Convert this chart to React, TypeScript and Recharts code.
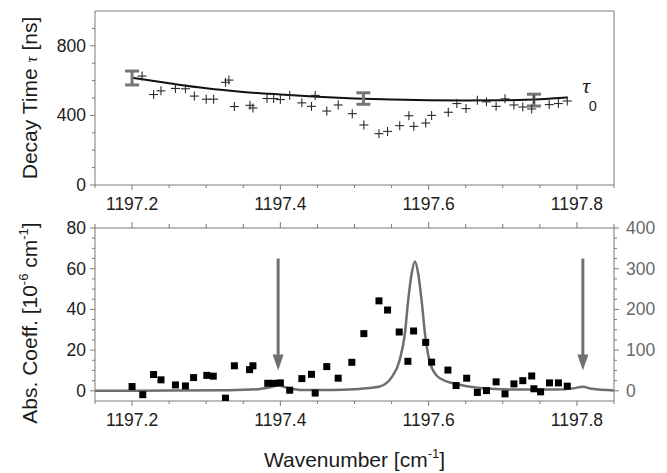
import { ComposedChart, Scatter, Line, XAxis, YAxis, ErrorBar, ReferenceLine, Label } from 'recharts'

const FONT = '"Liberation Sans", Arial, Helvetica, sans-serif'
const SERIF = '"Liberation Serif", "Times New Roman", serif'
const AXIS = '#7a7a7a'
const INK = '#1c1c1c'
const GREY = '#6e6e6e'

// upper panel: decay time tau [ns]
const tauWave = [
  1197.2135, 1197.229, 1197.239, 1197.2585, 1197.272, 1197.284, 1197.3, 1197.31, 1197.326, 1197.3306,
  1197.338, 1197.359, 1197.363, 1197.382, 1197.391, 1197.4, 1197.4126, 1197.429, 1197.442, 1197.447,
  1197.4626, 1197.478, 1197.497, 1197.5126, 1197.533, 1197.5446, 1197.561, 1197.5734, 1197.58, 1197.596,
  1197.604, 1197.6265, 1197.638, 1197.6504, 1197.6657, 1197.678, 1197.691, 1197.703, 1197.715, 1197.727,
  1197.739, 1197.742, 1197.7626, 1197.775, 1197.787,
]
const tauNs = [
  626, 520, 541, 555, 553, 511, 493, 493, 590, 603,
  451, 458, 443, 497, 497, 491, 516, 472, 452, 515,
  425, 460, 410, 345, 295, 308, 341, 398, 337, 356,
  400, 418, 468, 439, 487, 478, 452, 495, 460, 448,
  437, 491, 462, 468, 483,
]
const fitWave = [1197.2, 1197.25, 1197.3, 1197.35, 1197.4, 1197.45, 1197.5, 1197.55, 1197.6, 1197.65, 1197.7, 1197.75, 1197.787]
const fitNs = [617, 585, 556, 535, 520, 507, 497, 491, 487, 485, 487, 493, 503]
const errWave = [1197.2, 1197.512, 1197.742]
const errNs = [615, 497, 488]
const errHalf = [40, 33, 34]

// lower panel: absorption coefficient + simulated spectrum
const absWave = [
  1197.2, 1197.2144, 1197.229, 1197.239, 1197.2585, 1197.272, 1197.283, 1197.3008, 1197.3095, 1197.326,
  1197.338, 1197.3585, 1197.363, 1197.383, 1197.391, 1197.4, 1197.4126, 1197.429, 1197.442, 1197.447,
  1197.4626, 1197.478, 1197.4964, 1197.5126, 1197.533, 1197.5446, 1197.5603, 1197.572, 1197.5797, 1197.596,
  1197.604, 1197.626, 1197.637, 1197.6513, 1197.6657, 1197.678, 1197.691, 1197.703, 1197.715, 1197.727,
  1197.739, 1197.742, 1197.751, 1197.763, 1197.775, 1197.787,
]
const absCoeff = [
  2.1, -1.9, 8.0, 5.4, 2.9, 2.4, 6.5, 7.6, 7.2, -3.6,
  12.3, 10.4, 12.3, 3.7, 3.7, 3.9, 0.3, 6.0, 8.1, -1.1,
  11.9, 6.2, 14.0, 28.1, 44.2, 39.7, 28.9, 14.5, 29.4, 23.8,
  14.1, 10.2, 2.6, 6.2, -0.8, 0.1, 4.4, -1.5, 3.4, 5.0,
  7.3, 1.0, -0.5, 3.9, 3.9, 2.3,
]
const simWave = [
  1197.15, 1197.25, 1197.33, 1197.37, 1197.385, 1197.397, 1197.41, 1197.43, 1197.47, 1197.5,
  1197.52, 1197.534, 1197.55, 1197.561, 1197.568, 1197.5724, 1197.577, 1197.5815, 1197.586, 1197.5905,
  1197.595, 1197.6008, 1197.611, 1197.6243, 1197.642, 1197.669, 1197.72, 1197.77, 1197.795, 1197.808,
  1197.82, 1197.85,
]
const simSignal = [
  0, 0.5, 1.5, 4, 8, 13, 7, 2, 2, 4,
  7, 10.5, 33, 76, 141, 222, 287, 318, 287, 222,
  141, 76, 37, 23, 15, 7, 3, 3, 6, 10,
  5, 1,
]
const arrowWave = [1197.397, 1197.808]
const arrowFrom = 65
const arrowTo = 10

const xTicks = [
  1197.15, 1197.2, 1197.25, 1197.3, 1197.35, 1197.4, 1197.45, 1197.5, 1197.55, 1197.6, 1197.65, 1197.7,
  1197.75, 1197.8, 1197.85,
]
const tauTicks = [0, 100, 200, 300, 400, 500, 600, 700, 800, 900]
const absTicks = [0, 5, 10, 15, 20, 25, 30, 35, 40, 45, 50, 55, 60, 65, 70, 75, 80]
const simTicks = [0, 25, 50, 75, 100, 125, 150, 175, 200, 225, 250, 275, 300, 325, 350, 375, 400]

const crossData = tauWave.map((w, i) => ({ w, t: tauNs[i] }))
const fitData = fitWave.map((w, i) => ({ w, t: fitNs[i] }))
const errData = errWave.map((w, i) => ({ w, t: errNs[i], e: errHalf[i] }))
const absData = absWave.map((w, i) => ({ w, a: absCoeff[i] }))
const simData = simWave.map((w, i) => ({ w, s: simSignal[i] }))

const onStep = (v: number, step: number) => Math.abs(v / step - Math.round(v / step)) < 1e-6

function makeTick(side: 'left' | 'right' | 'bottom' | 'top', step: number, labels: boolean, color = INK) {
  return (p: any) => {
    const { x, y, payload } = p
    const v = payload.value as number
    const major = onStep(v, step)
    const len = major ? 5 : 3
    let line
    let text = null
    if (side === 'bottom') {
      line = <line x1={x} y1={y} x2={x} y2={y + len} stroke={AXIS} />
      if (labels && major)
        text = <text x={x} y={y + 24.5} textAnchor="middle" fill={color} fontSize={17.5}>{v.toFixed(1)}</text>
    } else if (side === 'top') {
      line = <line x1={x} y1={y} x2={x} y2={y - len - 1} stroke={AXIS} />
    } else if (side === 'left') {
      line = <line x1={x} y1={y} x2={x - len} y2={y} stroke={AXIS} />
      if (labels && major)
        text = <text x={x - 9} y={y + 6} textAnchor="end" fill={color} fontSize={17.5}>{v}</text>
    } else {
      line = <line x1={x} y1={y} x2={x + len} y2={y} stroke={AXIS} />
      if (labels && major)
        text = <text x={x + 12} y={y + 6} textAnchor="start" fill={color} fontSize={17.5}>{v}</text>
    }
    return (
      <g>
        {line}
        {text}
      </g>
    )
  }
}

const crossShape = (p: any) => (
  <g stroke="#2a2a2a" strokeWidth={1.1}>
    <line x1={p.cx - 4.5} x2={p.cx + 4.5} y1={p.cy} y2={p.cy} />
    <line x1={p.cx} x2={p.cx} y1={p.cy - 4.5} y2={p.cy + 4.5} />
  </g>
)

const squareShape = (p: any) => <rect x={p.cx - 3.5} y={p.cy - 3.5} width={7} height={7} fill="#000" />

const arrowShape = (p: any) => {
  const { x1, y1, x2, y2 } = p
  const head = 16
  return (
    <g>
      <line x1={x1} y1={y1} x2={x2} y2={y2 - head + 2} stroke="#707070" strokeWidth={3} />
      <polygon points={`${x2 - 5.5},${y2 - head} ${x2 + 5.5},${y2 - head} ${x2},${y2}`} fill="#707070" />
    </g>
  )
}

const tauLabel = (p: any) => {
  if (p.index !== fitWave.length - 1) return null
  return (
    <g>
      <text x={p.x + 15} y={p.y - 4} fontFamily={SERIF} fontStyle="italic" fontSize={22} fill={INK}>τ</text>
      <text x={p.x + 21.5} y={p.y + 13.5} fontSize={14.5} fill={INK}>0</text>
    </g>
  )
}

const decayTitle = (p: any) => {
  const vb = p.viewBox
  const cy = vb.y + vb.height / 2
  return (
    <text transform={`translate(36.5, ${cy}) rotate(-90)`} textAnchor="middle" fontSize={21} fill={INK}>
      Decay Time <tspan fontFamily={SERIF} fontStyle="italic" fontSize={17}>τ</tspan> [ns]
    </text>
  )
}

const absTitle = (p: any) => {
  const vb = p.viewBox
  const cy = vb.y + vb.height / 2 + 8.5
  return (
    <text transform={`translate(36.5, ${cy}) rotate(-90)`} textAnchor="middle" fontSize={21} fill={INK}>
      Abs. Coeff. [10<tspan dy={-9} fontSize={13}>-6</tspan>
      <tspan dy={9}> cm</tspan>
      <tspan dy={-9} fontSize={13}>-1</tspan>
      <tspan dy={9}>]</tspan>
    </text>
  )
}

const waveTitle = (p: any) => {
  const vb = p.viewBox
  return (
    <text x={vb.x + vb.width / 2} y={vb.y + 65.5} textAnchor="middle" fontSize={21} fill={INK}>
      Wavenumber [cm<tspan dy={-9} fontSize={13}>-1</tspan>
      <tspan dy={9}>]</tspan>
    </text>
  )
}

export default function App() {
  return (
    <div style={{ position: 'absolute', left: 0, top: 0, width: 667, height: 473, background: '#fff', fontFamily: FONT }}>
      <div style={{ position: 'absolute', left: 0, top: 0 }}>
        <ComposedChart width={667} height={220} margin={{ top: 11, right: 53, bottom: 0, left: 0 }} style={{ fontFamily: FONT }}>
          <XAxis
            type="number"
            dataKey="w"
            domain={[1197.15, 1197.85]}
            allowDataOverflow
            ticks={xTicks}
            interval={0}
            height={35}
            tickLine={false}
            tickSize={0}
            tickMargin={0}
            axisLine={{ stroke: AXIS }}
            tick={makeTick('bottom', 0.2, true)}
          />
          <YAxis
            type="number"
            domain={[0, 1000]}
            allowDataOverflow
            ticks={tauTicks}
            interval={0}
            width={95}
            tickLine={false}
            tickSize={0}
            tickMargin={0}
            axisLine={{ stroke: AXIS }}
            tick={makeTick('left', 400, true)}
          >
            <Label content={decayTitle} />
          </YAxis>
          <ReferenceLine y={1000} stroke={AXIS} />
          <ReferenceLine x={1197.85} stroke={AXIS} />
          <Line
            data={fitData}
            dataKey="t"
            type="monotone"
            stroke="#111"
            strokeWidth={2}
            dot={false}
            isAnimationActive={false}
            label={tauLabel}
          />
          <Scatter data={crossData} dataKey="t" shape={crossShape} isAnimationActive={false} />
          <Scatter data={errData} dataKey="t" shape={() => <g />} isAnimationActive={false}>
            <ErrorBar dataKey="e" direction="y" width={7} stroke="#767676" strokeWidth={3} />
          </Scatter>
        </ComposedChart>
      </div>
      <div style={{ position: 'absolute', left: 0, top: 215 }}>
        <ComposedChart width={667} height={258} margin={{ top: 0, right: 0, bottom: 0, left: 0 }} style={{ fontFamily: FONT }}>
          <XAxis
            xAxisId="b"
            type="number"
            dataKey="w"
            domain={[1197.15, 1197.85]}
            allowDataOverflow
            ticks={xTicks}
            interval={0}
            height={72}
            tickLine={false}
            tickSize={0}
            tickMargin={0}
            axisLine={{ stroke: AXIS }}
            tick={makeTick('bottom', 0.2, true)}
          >
            <Label content={waveTitle} />
          </XAxis>
          <XAxis
            xAxisId="t"
            orientation="top"
            type="number"
            dataKey="w"
            domain={[1197.15, 1197.85]}
            allowDataOverflow
            ticks={xTicks}
            interval={0}
            height={13}
            tickLine={false}
            tickSize={0}
            tickMargin={0}
            axisLine={{ stroke: AXIS }}
            tick={makeTick('top', 0.2, false)}
          />
          <YAxis
            yAxisId="l"
            type="number"
            domain={[-5, 80]}
            allowDataOverflow
            ticks={absTicks}
            interval={0}
            width={95}
            tickLine={false}
            tickSize={0}
            tickMargin={0}
            axisLine={{ stroke: AXIS }}
            tick={makeTick('left', 20, true)}
          >
            <Label content={absTitle} />
          </YAxis>
          <YAxis
            yAxisId="r"
            orientation="right"
            type="number"
            domain={[-25, 400]}
            allowDataOverflow
            ticks={simTicks}
            interval={0}
            width={53}
            tickLine={false}
            tickSize={0}
            tickMargin={0}
            axisLine={{ stroke: AXIS }}
            tick={makeTick('right', 100, true, '#6a6a6a')}
          />
          <Line
            xAxisId="b"
            yAxisId="r"
            data={simData}
            dataKey="s"
            type="monotone"
            stroke={GREY}
            strokeWidth={2.5}
            dot={false}
            isAnimationActive={false}
          />
          <Scatter xAxisId="b" yAxisId="l" data={absData} dataKey="a" shape={squareShape} isAnimationActive={false} />
          {arrowWave.map(w => (
            <ReferenceLine
              key={w}
              xAxisId="b"
              yAxisId="l"
              segment={[
                { x: w, y: arrowFrom },
                { x: w, y: arrowTo },
              ]}
              shape={arrowShape}
            />
          ))}
        </ComposedChart>
      </div>
    </div>
  )
}
